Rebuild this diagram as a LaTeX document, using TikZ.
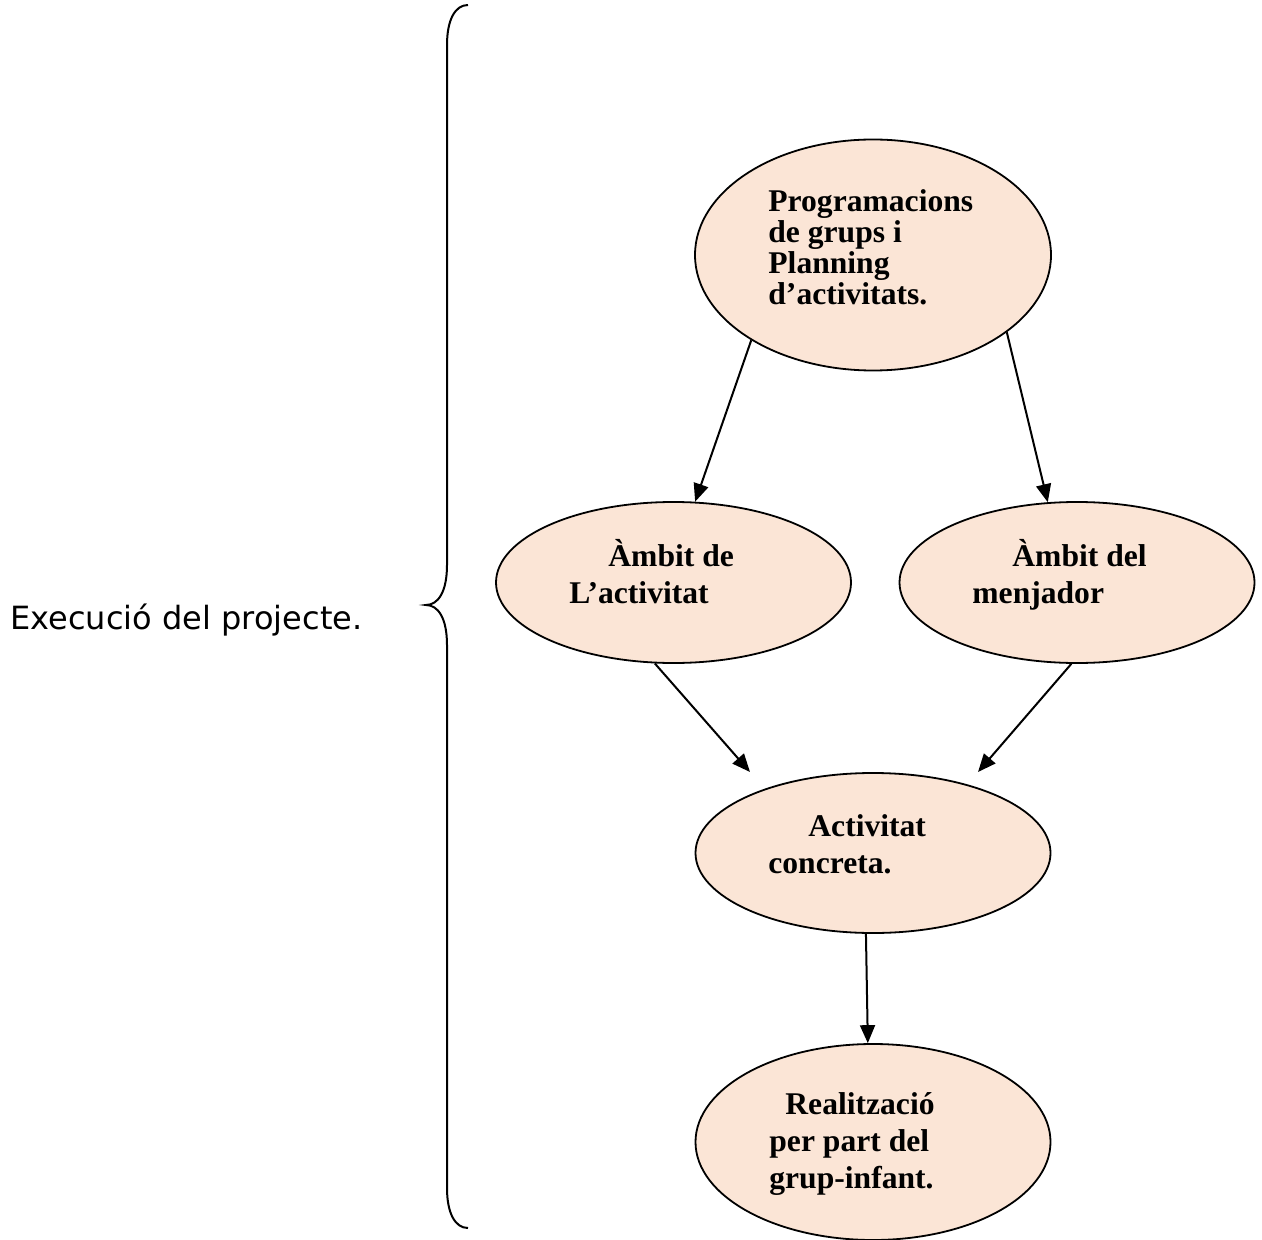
\documentclass[tikz,border=0pt]{standalone}
\usepackage{fontspec}
\setmainfont{Liberation Serif}
\newfontfamily\labelfont{DejaVu Sans}
\usetikzlibrary{shapes.geometric,arrows.meta}
\definecolor{bubblefill}{RGB}{251,229,214}
\tikzset{
	bubble/.style={ellipse, draw=black, line width=0.9pt, fill=bubblefill, inner sep=0pt},
	bubbletext/.style={anchor=base west, inner sep=0pt, text width=160pt, align=flush left, font=\fontsize{15.8}{18.5}\selectfont\bfseries},
	flow/.style={line width=1pt, -{Triangle[length=9pt,width=7.5pt]}}
}

\begin{document}
\lineskiplimit=-20pt
\begin{tikzpicture}[x=0.5pt, y=-0.5pt]
			%%%%% START %%%%%
			\useasboundingbox (0,0) rectangle (1262,1240);
			
			\node[anchor=base west, inner sep=0pt, font=\labelfont\fontsize{16}{19}\selectfont] (execucio) at (10,629) {Execució del projecte.};
			
			\draw[line width=1pt] (468,5) .. controls (455,5) and (447,20) .. (447,45) -- (447,565) .. controls (447,592) and (438,605) .. (426,605) .. controls (438,605) and (447,618) .. (447,645) -- (447,1188) .. controls (447,1213) and (455,1228) .. (468,1228);
			
			\node[bubble, minimum width=178pt, minimum height=115.5pt] (prog) at (873,255) {};
			\node[bubble, minimum width=177.5pt, minimum height=80.5pt] (ambact) at (673.5,582.5) {};
			\node[bubble, minimum width=177.5pt, minimum height=80.5pt] (ambmenj) at (1077,582.5) {};
			\node[bubble, minimum width=177.5pt, minimum height=80pt] (concreta) at (873,853) {};
			\node[bubble, minimum width=177.5pt, minimum height=98pt] (realit) at (873,1142) {};
			
			\node[bubbletext, font=\fontsize{15.8}{14.2}\selectfont\bfseries] (progtxt) at (768,212) {Programacions\\ de grups i\\ Planning\\ d’activitats.};
			\node[bubbletext] (acttxt) at (569,566) {\hspace*{19.5pt}Àmbit de\\ L’activitat};
			\node[bubbletext] (menjtxt) at (972,566) {\hspace*{20pt}Àmbit del\\ menjador};
			\node[bubbletext] (conctxt) at (768,836) {\hspace*{20pt}Activitat\\ concreta.};
			\node[bubbletext] (realtxt) at (769,1114) {\hspace*{8pt}Realització\\ per part del\\ grup-infant.};
			
			\coordinate (concleft) at (750,772);
			\coordinate (concright) at (978,772);
			
			\draw[flow] (prog.215) -- (ambact.75);
			\draw[flow] (prog.330) -- (ambmenj.110);
			\draw[flow] (ambact.257) -- (concleft);
			\draw[flow] (ambmenj.266) -- (concright);
			\draw[flow] (concreta.265) -- (realit.93);
			
			%%%%% END %%%%%
\end{tikzpicture}
\end{document}
